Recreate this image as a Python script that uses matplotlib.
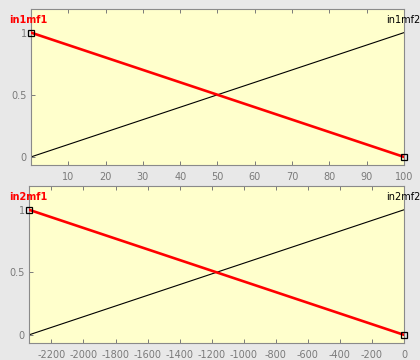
import matplotlib
matplotlib.use("Agg")
import matplotlib.pyplot as plt

# Input 1 membership functions
in1_x = [0, 100]
in1mf1 = [1, 0]
in1mf2 = [0, 1]
in1_ticks = [10, 20, 30, 40, 50, 60, 70, 80, 90, 100]

# Input 2 membership functions
in2_x = [-2340, 0]
in2mf1 = [1, 0]
in2mf2 = [0, 1]
in2_ticks = [-2200, -2000, -1800, -1600, -1400, -1200, -1000, -800, -600, -400, -200, 0]

y_ticks = [0, 0.5, 1]
y_labels = ["0", "0.5", "1"]

fig = plt.figure(figsize=(4.2, 3.6), dpi=100, facecolor="#e8e8e8")
W, H = 420, 360

def make_ax(top, bottom, left, right):
    return fig.add_axes([left / W, 1 - bottom / H, (right - left) / W, (bottom - top) / H])

ax1 = make_ax(9, 165, 31, 404)
ax2 = make_ax(186, 343, 29, 404)

tick_col = "#7a7a7a"
for ax, x, mf1, mf2, ticks, n1, n2, ly in [
    (ax1, in1_x, in1mf1, in1mf2, in1_ticks, "in1mf1", "in1mf2", 20),
    (ax2, in2_x, in2mf1, in2mf2, in2_ticks, "in2mf1", "in2mf2", 197),
]:
    ax.set_facecolor("#ffffcc")
    ax.plot(x, mf2, color="black", lw=0.8, zorder=2)
    ax.plot(x, mf1, color="red", lw=1.9, zorder=3)
    ax.plot([x[0], x[-1]], [mf1[0], mf1[-1]], ls="none", marker="s", ms=4,
            mfc="none", mec="black", mew=0.9, zorder=4, clip_on=False)
    ax.set_xlim(x[0], x[-1])
    ax.set_ylim(-0.065, 1.19)
    ax.set_xticks(ticks)
    ax.set_xticklabels([str(t) for t in ticks])
    ax.set_yticks(y_ticks)
    ax.set_yticklabels(y_labels)
    ax.tick_params(axis="both", direction="in", length=3, width=0.7, colors=tick_col,
                   labelsize=7, labelcolor=tick_col, top=True, pad=3)
    ax.tick_params(axis="x", pad=5)
    for s in ax.spines.values():
        s.set_color("#8a8a8a")
        s.set_linewidth(0.8)
    fig.text(9 / W, 1 - ly / H, n1, color="red", fontsize=7, fontweight="bold",
             ha="left", va="center")
    fig.text(403 / W, 1 - ly / H, n2, color="black", fontsize=7,
             ha="center", va="center")

fig.savefig("out.png", dpi=100, facecolor=fig.get_facecolor())
